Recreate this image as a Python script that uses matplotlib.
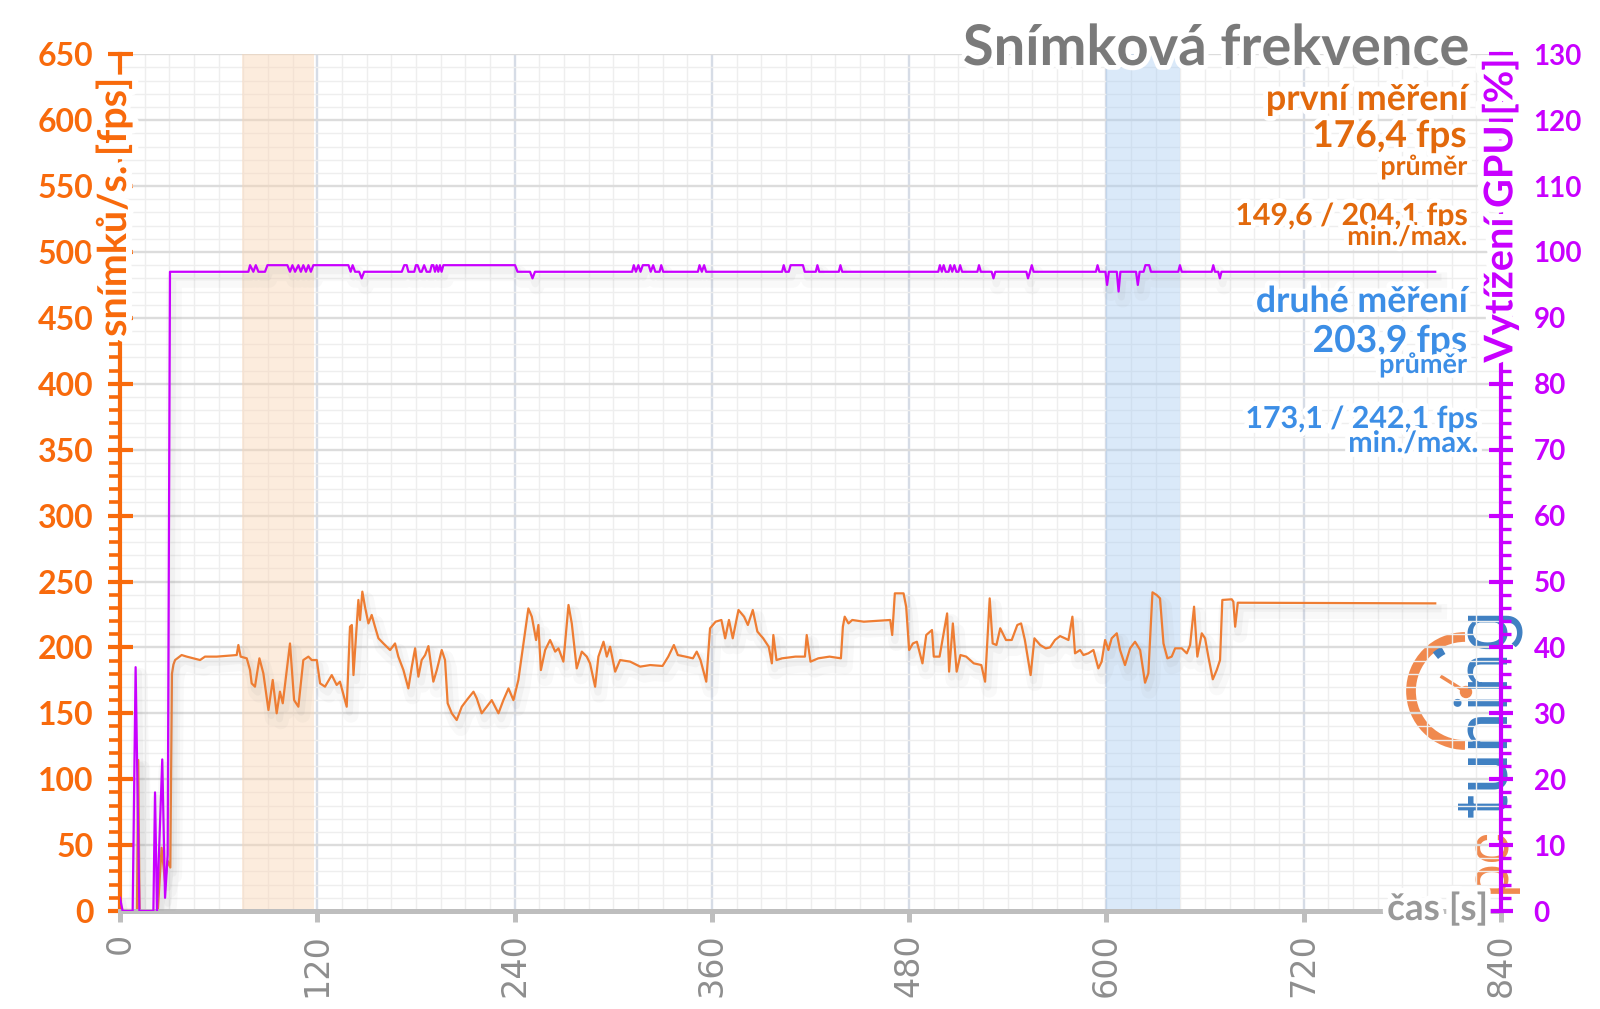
import matplotlib
matplotlib.use("Agg")
import matplotlib.pyplot as plt
import matplotlib.patheffects as pe
from matplotlib.ticker import MultipleLocator, FixedLocator
from matplotlib.patches import Arc, Circle
from matplotlib.lines import Line2D

# ---------------- data ----------------
fps_t = [0, 10.3, 11.1, 11.9, 23.0, 25.3, 27.4, 29.0, 30.6, 31.6, 32.5, 33.5, 37.5, 40.6, 48.7, 51.7,
         58.8, 71.0, 72.0, 73.4, 77.1, 79.1, 80.1, 82.1, 84.8, 87.2, 90.3, 92.9, 95.3, 97.3, 99.0,
         103.4, 105.9, 108.5, 111.5, 114.6, 116.6, 119.7, 121.7, 124.7, 128.8, 131.8, 133.8, 137.9,
         139.9, 141.0, 142.0, 145.0, 146.0, 147.4, 149.0, 151.1, 153.1, 155.1, 157.2, 160.2, 164.3,
         167.3, 169.3, 172.4, 175.4, 177.5, 179.5, 181.5, 183.5, 185.6, 187.6, 190.6, 192.7, 195.7,
         197.7, 199.3, 201.8, 204.8, 207.9, 210.9, 215.0, 217.0, 220.0, 223.1, 226.1, 230.2, 233.2,
         236.3, 239.3, 242.3, 245.4, 248.4, 250.5, 253.1, 254.5, 256.0, 258.6, 261.6, 264.7, 266.7,
         269.7, 272.8, 274.8, 277.8, 280.9, 283.9, 285.9, 289.0, 291.0, 294.1, 296.1, 298.1, 301.2,
         304.2, 310.3, 316.4, 322.5, 330.0, 333.5, 336.9, 339.3, 343.9, 348.5, 350.8, 353.1, 356.6,
         358.9, 362.3, 365.8, 368.1, 370.4, 372.7, 376.2, 379.6, 381.9, 384.9, 387.7, 391.2, 394.6,
         396.5, 397.4, 399.3, 402.7, 410.8, 416.6, 417.7, 420.0, 424.7, 431.6, 438.5, 439.7, 440.8,
         443.1, 445.4, 452.4, 468.5, 469.7, 471.3, 476.6, 478.2, 480.0, 482.3, 484.7, 488.1, 490.4,
         493.9, 495.0, 498.5, 503.1, 504.3, 506.6, 508.9, 511.2, 514.7, 519.3, 523.9, 526.2, 529.0,
         530.8, 533.1, 535.4, 538.9, 542.4, 545.8, 548.1, 550.4, 553.9, 556.2, 559.7, 563.1, 565.7,
         568.7, 571.8, 574.8, 576.9, 579.3, 580.9, 584.0, 586.0, 589.0, 592.1, 595.1, 597.1, 599.2,
         601.2, 603.2, 606.3, 608.3, 611.3, 614.4, 617.4, 620.5, 623.5, 625.5, 628.0, 630.6, 632.6,
         634.7, 637.1, 639.7, 641.8, 645.8, 648.9, 650.9, 653.3, 655.3, 658.0, 660.0, 662.0, 664.7,
         667.1, 669.1, 670.5, 676.2, 677.2, 678.3, 679.9, 800.0]
fps_v = [0, 0, 114.6, 0, 0, 48, 22, 38, 33, 180, 187, 190.4, 194.2, 193, 190.4, 193,
         193, 194.2, 201.8, 193, 191.7, 182.8, 172.7, 170.2, 191.7, 180.3, 152.5, 175.3, 150, 166.4, 157.6,
         203, 160, 155, 190.4, 193, 190.4, 190.4, 172.7, 170.2, 179, 171.5, 174, 155,
         215.7, 217, 179, 236, 220.8, 242.3, 230.9, 218.2, 224.6, 215.7, 206.9, 203, 198,
         203, 193, 182.8, 168.9, 185.4, 199.3, 177.8, 190.4, 194.2, 201, 174, 182.8, 198,
         190.4, 157.6, 150, 144.9, 155, 160, 166.4, 161.3, 150, 155, 160, 150, 160,
         168.9, 160, 175.3, 203, 229.6, 223.3, 205.6, 217, 182.8, 198, 205.6, 196.8, 199.3,
         189.2, 232.2, 218.2, 184.1, 196.8, 193, 187.9, 170.2, 193, 204.3, 193, 200.5, 181.6,
         190.4, 189.2, 185.4, 186.6, 185.9, 193, 201.8, 194.2, 193, 191.7, 196.8, 190.4, 174,
         214.5, 219.5, 220.8, 206.9, 220.8, 206.9, 228.4, 223.3, 217, 228.4, 212, 206.9, 200.5,
         187.9, 209.4, 190.4, 191.7, 193, 193, 209.4, 189.2, 191.7, 193, 191.7, 215.7, 223.3,
         218.2, 220.8, 219.5, 220.8, 209.4, 241, 241, 230.9, 198, 203, 204.3, 187.9, 209.4,
         213.2, 193, 193, 225.8, 181.6, 218.2, 181.6, 194.2, 193, 187.9, 186.6, 174, 237.2,
         203, 201.8, 214.5, 205.6, 205.6, 217, 218.2, 205.6, 179, 206.9, 201.8, 199.3, 200,
         205.6, 208.6, 206.9, 205.6, 223.3, 195.5, 198, 194.2, 195.5, 198, 184.1, 189.2, 205.6,
         198, 206.9, 210.7, 198, 186.6, 199.3, 204.3, 198, 173.2, 180.3, 241.8, 239.7, 237.2,
         203, 191.7, 193, 199.3, 199.3, 195.5, 201.8, 230.9, 193, 210.7, 206.9, 193, 175.8,
         182.8, 190.4, 236, 236.5, 234.7, 215.7, 233.9, 233.4]

gpu_t = [0, 1.6, 7.7, 9.5, 11.8, 20.3, 21.3, 22.5, 25.7, 27.4, 29.0, 30.4,
         78.1, 79.1, 81.1, 82.6, 84.2, 88.2, 89.7, 101.8, 103.4, 104.9, 106.5, 108.5, 110.0, 111.5,
         113.1, 114.6, 116.1, 117.6, 138.9, 140.3, 141.5, 143.0, 145.5, 147.0, 148.5, 171.4, 172.9,
         174.4, 175.4, 179.0, 180.0, 181.0, 182.5, 183.5, 185.0, 186.5, 188.6, 189.6, 190.6, 191.6,
         192.6, 193.6, 194.6, 195.6, 196.7, 240.3, 241.8, 249.4, 250.9, 252.4,
         311.5, 312.5, 313.8, 315.3, 316.6, 318.0, 321.6, 322.8, 324.3, 325.6, 328.2, 329.2, 330.4,
         351.5, 352.5, 353.9, 355.3, 356.5, 402.7, 403.7, 404.8, 406.8, 407.9, 415.4, 416.5, 423.2,
         424.2, 425.3, 437.2, 438.2, 439.3, 497.7, 498.7, 499.9, 501.0, 502.2, 504.0, 505.0, 506.2,
         507.5, 508.7, 510.0, 511.0, 512.2, 521.5, 522.5, 523.6, 530.2, 531.3, 532.4, 551.3, 552.3,
         553.5, 554.6, 555.7, 593.6, 594.6, 595.7, 599.4, 600.4, 601.5, 606.3, 607.4, 608.5, 618.0,
         619.1, 620.2, 622.6, 623.7, 626.0, 627.1, 643.7, 644.7, 645.8, 664.0, 665.0, 666.0, 668.0,
         669.0, 670.0, 800.0]
gpu_v = [2, 0, 0, 37, 0, 0, 18, 0, 23, 2, 8.5, 97,
         97, 98, 97, 98, 97, 97, 98, 98, 97, 98, 97, 98, 97, 98,
         97, 98, 97, 98, 98, 97, 98, 97, 97, 96, 97, 97, 98,
         98, 97, 97, 98, 98, 97, 97, 98, 97, 97, 98, 98, 97,
         98, 97, 98, 97, 98, 98, 97, 97, 96, 97,
         97, 98, 97, 98, 97, 98, 98, 97, 98, 97, 97, 98, 97,
         97, 98, 97, 98, 97, 97, 98, 97, 97, 98, 98, 97, 97,
         98, 97, 97, 98, 97, 97, 98, 97, 98, 97, 97, 98, 97,
         98, 97, 97, 98, 97, 97, 98, 97, 97, 96, 97, 97, 96,
         97, 98, 97, 97, 98, 97, 97, 95, 97, 97, 94, 97, 97,
         95, 97, 97, 98, 98, 97, 97, 98, 97, 97, 98, 97, 97,
         96, 97, 97]

x_ticks = [0, 120, 240, 360, 480, 600, 720, 840]
fps_ticks = [0, 50, 100, 150, 200, 250, 300, 350, 400, 450, 500, 550, 600, 650]
gpu_ticks = [0, 10, 20, 30, 40, 50, 60, 70, 80, 90, 100, 110, 120, 130]
span_first = [74, 118]
span_second = [600, 645]

title_text = "Snímková frekvence"
first_lines = ["první měření", "176,4 fps", "průměr", "149,6 / 204,1 fps", "min./max."]
second_lines = ["druhé měření", "203,9 fps", "průměr", "173,1 / 242,1 fps", "min./max."]
fps_label = "snímků/s. [fps]"
gpu_label = "Vytížení GPU [%]"
time_label = "čas [s]"

# ---------------- style ----------------
C_ORANGE_AX = "#F86A0C"
C_ORANGE_LINE = "#EE7D33"
C_ORANGE_TXT = "#E2690C"
C_BLUE_TXT = "#3C8EE6"
C_MAGENTA = "#C800FF"
C_GRAY_TITLE = "#7A7A7A"
C_GRAY_AX = "#BEBEBE"
C_GRAY_TXT = "#8E8E8E"
FAM = ["Lato", "DejaVu Sans"]

W, H = 1600, 1009
fig = plt.figure(figsize=(W / 100, H / 100), dpi=100)
fig.patch.set_facecolor("white")


def fx(px):
    return px / W


def fy(py):
    return 1 - py / H


ax = fig.add_axes([fx(120), fy(911), fx(1501) - fx(120), fy(54.3) - fy(911)])
ax.patch.set_visible(False)
ax.set_xlim(0, 840)
ax.set_ylim(0, 650)
ax2 = ax.twinx()
ax2.set_ylim(0, 130)
ax2.patch.set_visible(False)

# grid
ax.set_axisbelow(True)
ax.xaxis.set_major_locator(FixedLocator(x_ticks))
ax.xaxis.set_minor_locator(MultipleLocator(15))
ax.yaxis.set_major_locator(FixedLocator(fps_ticks))
ax.yaxis.set_minor_locator(MultipleLocator(10))
ax.grid(which="minor", color="#EEEEEE", lw=1.0)
ax.grid(which="major", axis="y", color="#DCDCDC", lw=1.7)
ax.grid(which="major", axis="x", color="#D6DCE6", lw=1.7)

# highlighted spans
ax.axvspan(*span_first, color="#FAD3B0", alpha=0.42, lw=0, zorder=0.6)
ax.axvspan(*span_second, color="#A8CCF2", alpha=0.42, lw=0, zorder=0.6)

shadow = [pe.SimpleLineShadow(offset=(3, -6), shadow_color="#8c8c8c", alpha=0.05, linewidth=11),
          pe.SimpleLineShadow(offset=(2, -4), shadow_color="#8c8c8c", alpha=0.07, linewidth=5),
          pe.Normal()]
ax.plot(fps_t, fps_v, color=C_ORANGE_LINE, lw=1.6, zorder=2, path_effects=shadow)
ax2.plot(gpu_t, gpu_v, color=C_MAGENTA, lw=1.6, zorder=2, path_effects=shadow)

# spines
for s in ["top", "right"]:
    ax.spines[s].set_visible(False)
ax.spines["left"].set_color(C_ORANGE_AX)
ax.spines["left"].set_linewidth(3)
ax.spines["bottom"].set_color(C_GRAY_AX)
ax.spines["bottom"].set_linewidth(3.6)
for s in ["top", "left", "bottom"]:
    ax2.spines[s].set_visible(False)
ax2.spines["right"].set_color(C_MAGENTA)
ax2.spines["right"].set_linewidth(3)

# left axis ticks
ax.tick_params(axis="y", which="major", direction="inout", length=18, width=3,
               color=C_ORANGE_AX, labelcolor=C_ORANGE_AX, labelsize=23, pad=10)
ax.tick_params(axis="y", which="minor", direction="out", length=8, width=2.6, color=C_ORANGE_AX)
for lab in ax.get_yticklabels():
    lab.set_fontfamily(FAM)
    lab.set_fontweight("bold")

# right axis ticks
ax2.yaxis.set_major_locator(FixedLocator(gpu_ticks))
ax2.yaxis.set_minor_locator(MultipleLocator(2))
ax2.tick_params(axis="y", which="major", direction="inout", length=17, width=3,
                color=C_MAGENTA, labelcolor=C_MAGENTA, labelsize=20, pad=15)
ax2.tick_params(axis="y", which="minor", direction="out", length=7, width=2.4, color=C_MAGENTA)
for lab in ax2.get_yticklabels():
    lab.set_fontfamily(FAM)
    lab.set_fontweight("bold")

# x axis ticks
ax.tick_params(axis="x", which="major", direction="out", length=8, width=3.6,
               color=C_GRAY_AX, labelcolor=C_GRAY_TXT, labelsize=24, pad=8, labelrotation=90)
ax.tick_params(axis="x", which="minor", length=0)
for lab in ax.get_xticklabels():
    lab.set_fontfamily(["Liberation Sans Narrow", "DejaVu Sans"])

# ---------------- texts ----------------
white = [pe.withStroke(linewidth=7, foreground="white")]
renderer = fig.canvas.get_renderer()


def fit(txt, target_px, vertical=False):
    bb = txt.get_window_extent(renderer)
    cur = bb.height if vertical else bb.width
    txt.set_fontsize(txt.get_fontsize() * target_px / cur)


t = fig.text(fx(1468), fy(65), title_text, ha="right", va="baseline", color=C_GRAY_TITLE,
             fontsize=40, fontweight="bold", family=FAM, path_effects=white)
fit(t, 506)

first_spec = [(1467, 110, 202), (1467, 147, 154), (1467, 175, 87), (1468, 225, 232), (1467, 245, 120)]
second_spec = [(1467, 312, 212), (1467, 352, 154), (1467, 373, 88), (1478, 428, 232), (1478, 452, 130)]
for lines, spec, col in [(first_lines, first_spec, C_ORANGE_TXT), (second_lines, second_spec, C_BLUE_TXT)]:
    for s, (xr, yb, wpx) in zip(lines, spec):
        t = fig.text(fx(xr), fy(yb), s, ha="right", va="baseline", color=col, fontsize=22,
                     fontweight="bold", family=FAM, path_effects=white, zorder=5)
        fit(t, wpx)

t = fig.text(fx(114), fy(78), fps_label, rotation=90, ha="center", va="top", color=C_ORANGE_AX,
             fontsize=24, fontweight="bold", family=FAM, path_effects=[pe.withStroke(linewidth=9, foreground="white")],
             zorder=6)
fit(t, 259, vertical=True)
t = fig.text(fx(1500), fy(58), gpu_label, rotation=90, ha="center", va="top", color=C_MAGENTA,
             fontsize=24, fontweight="bold", family=FAM, path_effects=[pe.withStroke(linewidth=9, foreground="white")],
             zorder=6)
fit(t, 304, vertical=True)
t = fig.text(fx(1488), fy(920), time_label, ha="right", va="baseline", color="#999999",
             fontsize=26, fontweight="bold", family=FAM, path_effects=[pe.withStroke(linewidth=8, foreground="white")],
             zorder=6)
fit(t, 101)

# logo (pctuning) behind the axes
C_LOGO_O = "#F0894E"
C_LOGO_B = "#3F80C2"
t = fig.text(fx(1488), fy(893), "pc", rotation=90, ha="center", va="bottom", color=C_LOGO_O,
             fontsize=40, fontweight="normal", family=["Roboto", "DejaVu Sans"], zorder=-1)
fit(t, 66, vertical=True)
t = fig.text(fx(1488), fy(817), "tuning", rotation=90, ha="center", va="bottom", color=C_LOGO_B,
             fontsize=40, fontweight="normal", family=["Roboto", "DejaVu Sans"], zorder=-1)
fit(t, 208, vertical=True)
arc = Arc((14.65, (H - 691) / 100), 1.08, 1.08, theta1=90, theta2=270, transform=fig.dpi_scale_trans,
          color=C_LOGO_O, lw=7, zorder=-1)
fig.add_artist(arc)
arc2 = Arc((14.65, (H - 691) / 100), 0.92, 0.92, theta1=118, theta2=130, transform=fig.dpi_scale_trans,
           color=C_LOGO_B, lw=6, zorder=-1)
fig.add_artist(arc2)
needle = Line2D([14.42, 14.66], [(H - 677) / 100, (H - 692) / 100], transform=fig.dpi_scale_trans,
                color=C_LOGO_O, lw=2.5, zorder=-1)
fig.add_artist(needle)
fig.add_artist(Circle((14.66, (H - 692) / 100), 0.055, transform=fig.dpi_scale_trans, color=C_LOGO_O, zorder=-1))

# hide minor tick marks that sit under the rotated axis titles
fig.canvas.draw()
for tk in ax.yaxis.get_minor_ticks():
    if tk.get_loc() > 440:
        tk.tick1line.set_visible(False)
for tk in ax2.yaxis.get_minor_ticks():
    if tk.get_loc() > 82:
        tk.tick2line.set_visible(False)

fig.savefig("out.png", dpi=100, facecolor="white")
